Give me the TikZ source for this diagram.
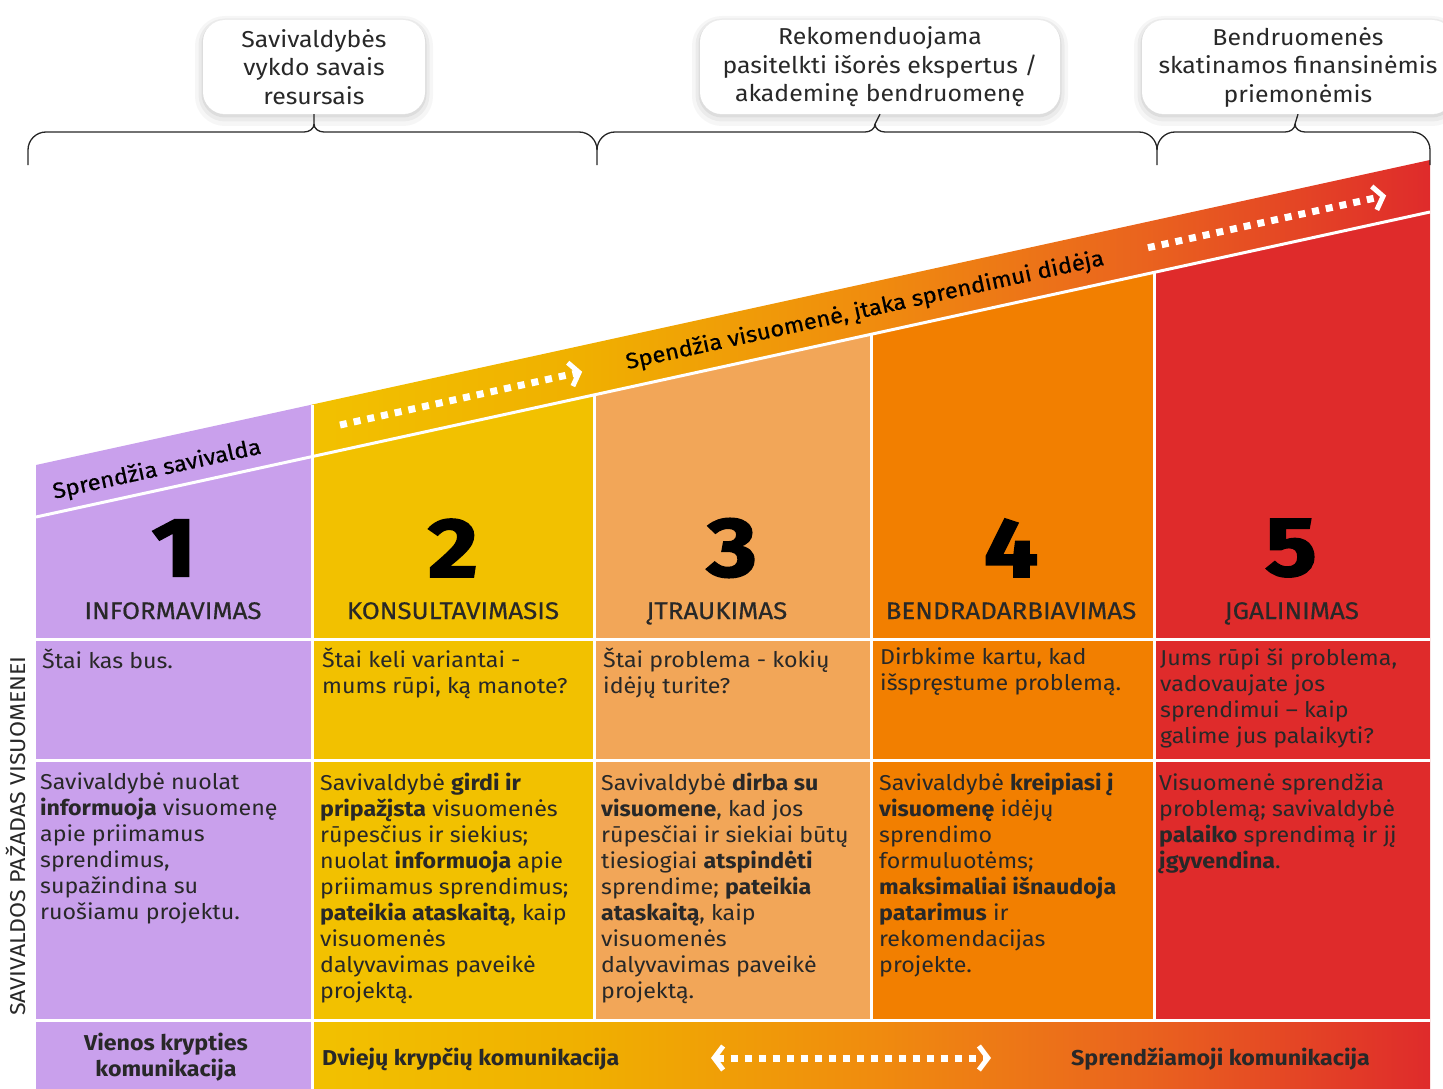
\documentclass[tikz,border=0pt]{standalone}
\usepackage{fontspec}
\setmainfont{Fira Sans}[FakeStretch=1.08]
\newfontfamily\numfont[FakeStretch=1.15, BoldFeatures={FakeBold=2}]{Fira Sans}
\newfontfamily\headfont[FakeStretch=1.08, FakeBold=0.5]{Fira Sans}
\usepackage{tikz}
\usetikzlibrary{arrows.meta}

\definecolor{lavender}{RGB}{201,160,236}
\definecolor{sunyellow}{RGB}{242,193,0}
\definecolor{peach}{RGB}{242,166,88}
\definecolor{deeporange}{RGB}{242,127,0}
\definecolor{firered}{RGB}{223,43,43}
\definecolor{amber}{RGB}{240,176,0}
\definecolor{tangerine}{RGB}{240,140,14}
\definecolor{rust}{RGB}{234,100,30}
\definecolor{inkgray}{RGB}{40,40,40}

%yellow to red
\pgfdeclarehorizontalshading{heatfade}{100bp}{color(0bp)=(sunyellow); color(25bp)=(sunyellow);
	color(37bp)=(amber); color(50bp)=(tangerine); color(62bp)=(rust); color(75bp)=(firered); color(100bp)=(firered)}

\tikzset{
	bubble/.style={fill=white, rounded corners=22pt, minimum height=94pt, align=center, text=inkgray,
		font=\fontsize{23}{28.5}\selectfont,
		preaction={draw=black, draw opacity=0.035, line width=16pt, transform canvas={yshift=-4pt}},
		preaction={draw=black, draw opacity=0.045, line width=9pt, transform canvas={yshift=-3pt}},
		preaction={draw=black, draw opacity=0.06, line width=3pt, transform canvas={yshift=-2pt}}},
	bracket/.style={black!85, line width=1.3pt},
	gap/.style={white, line width=3pt},
	bignum/.style={font=\fontsize{84}{84}\numfont\bfseries, text=black},
	levelname/.style={anchor=base, font=\fontsize{24}{28}\headfont, text=inkgray},
	celltext/.style={anchor=north west, align=left, inner sep=0pt, text=inkgray,
		font=\fontsize{21.5}{26}\selectfont, execute at begin node={\rule{0pt}{20pt}}},
	bandtext/.style={rotate=12.34, font=\fontsize{22}{24}\headfont, text=black},
	commtext/.style={font=\fontsize{21.5}{26}\selectfont\bfseries, text=inkgray},
	flowdash/.style={white, line width=7pt, dash pattern=on 7pt off 7pt},
	chevron/.tip={Straight Barb[length=9pt, width=24pt, line width=5pt, sep=6pt]}
}

\begin{document}
\begin{tikzpicture}[x=1pt,y=-1pt]
	\useasboundingbox (0,0) rectangle (1443,1089);

	%band
	\fill[lavender] (36,465) -- (312,404.6) -- (312,456.6) -- (36,517) -- cycle;
	\shade[shading=heatfade] (312,404.6) -- (1430,160) -- (1430,212) -- (312,456.6) -- cycle;

	%columns
	\fill[lavender] (36,517) -- (312,456.6) -- (312,1020) -- (36,1020) -- cycle;
	\fill[sunyellow] (312,456.6) -- (594,394.9) -- (594,1020) -- (312,1020) -- cycle;
	\fill[peach] (594,394.9) -- (871,334.3) -- (871,1020) -- (594,1020) -- cycle;
	\fill[deeporange] (871,334.3) -- (1154,272.4) -- (1154,1020) -- (871,1020) -- cycle;
	\fill[firered] (1154,272.4) -- (1430,212) -- (1430,1020) -- (1154,1020) -- cycle;
	%
	\fill[lavender] (36,1020) rectangle (312,1089);
	\shade[shading=heatfade] (312,1020) rectangle (1430,1089);

	%white lines
	\draw[gap] (36,517) -- (1430,212);
	\draw[gap] (312,404.6) -- (312,1089);
	\foreach \x/\y in {594/394.9, 871/334.3, 1154/272.4}
		\draw[gap] (\x,\y) -- (\x,1020);
	\foreach \y in {639,760,1020}
		\draw[gap] (36,\y) -- (1430,\y);

	%bubbles
	\node[bubble, minimum width=222pt] (res) at (314,67) {Savivaldybės\\vykdo savais\\resursais};
	\node[bubble, minimum width=360pt] (expert) at (880,67) {Rekomenduojama\\pasitelkti išorės ekspertus /\\akademinę bendruomenę};
	\node[bubble, minimum width=312pt] (fund) at (1298,67) {Bendruomenės\\skatinamos finansinėmis\\priemonėmis};

	%braces
	\coordinate (resL) at (28,165);
	\coordinate (resR) at (597,165);
	\coordinate (expertR) at (1157,165);
	\coordinate (fundR) at (1430,165);
	\draw[bracket] (res.south) -- (314,124) to[out=-90,in=0] (304,132) -- (46,132) to[out=180,in=90] (28,150) -- (resL);
	\draw[bracket] (314,124) to[out=-90,in=180] (324,132) -- (579,132) to[out=0,in=90] (597,150) -- (resR);
	\draw[bracket] (expert.south) -- (875,124) to[out=-90,in=0] (865,132) -- (615,132) to[out=180,in=90] (597,150);
	\draw[bracket] (875,124) to[out=-90,in=180] (885,132) -- (1139,132) to[out=0,in=90] (1157,150) -- (expertR);
	\draw[bracket] (fund.south) -- (1295,124) to[out=-90,in=0] (1285,132) -- (1175,132) to[out=180,in=90] (1157,150);
	\draw[bracket] (1295,124) to[out=-90,in=180] (1305,132) -- (1412,132) to[out=0,in=90] (1430,150) -- (fundR);

	%band labels and arrows
	\node[bandtext] (selfgov) at (157,470) {Sprendžia savivalda};
	\node[bandtext] (public) at (865,311) {Spendžia visuomenė, įtaka sprendimui didėja};
	\coordinate (dashA) at (340,425);
	\coordinate (tipA) at (588,370.5);
	\coordinate (dashB) at (1148,247.7);
	\coordinate (tipB) at (1392,194.3);
	\draw[flowdash, -chevron] (dashA) -- (tipA);
	\draw[flowdash, -chevron] (dashB) -- (tipB);

	%levels
	\node[bignum] (n1) at (174,548) {1};
	\node[bignum] (n2) at (453,548) {2};
	\node[bignum] (n3) at (732,548) {3};
	\node[bignum] (n4) at (1011,548) {4};
	\node[bignum] (n5) at (1291,548) {5};
	\node[levelname] (h1) at (173,619) {INFORMAVIMAS};
	\node[levelname] (h2) at (453,619) {KONSULTAVIMASIS};
	\node[levelname] (h3) at (717,619) {ĮTRAUKIMAS};
	\node[levelname] (h4) at (1011,619) {BENDRADARBIAVIMAS};
	\node[levelname] (h5) at (1292,619) {ĮGALINIMAS};

	%questions
	\node[celltext] (q1) at (42,648) {Štai kas bus.};
	\node[celltext] (q2) at (322,648) {Štai keli variantai -\\mums rūpi, ką manote?};
	\node[celltext] (q3) at (603,648) {Štai problema - kokių\\idėjų turite?};
	\node[celltext] (q4) at (880,648) {Dirbkime kartu, kad\\išspręstume problemą.};
	\node[celltext] (q5) at (1160,648) {Jums rūpi ši problema,\\vadovaujate jos\\sprendimui – kaip\\galime jus palaikyti?};

	%promises
	\node[celltext] (d1) at (40,773) {Savivaldybė nuolat\\\textbf{informuoja} visuomenę\\apie priimamus\\sprendimus,\\supažindina su\\ruošiamu projektu.};
	\node[celltext] (d2) at (320,773) {Savivaldybė \textbf{girdi ir}\\\textbf{pripažįsta} visuomenės\\rūpesčius ir siekius;\\nuolat \textbf{informuoja} apie\\priimamus sprendimus;\\\textbf{pateikia ataskaitą}, kaip\\visuomenės\\dalyvavimas paveikė\\projektą.};
	\node[celltext] (d3) at (601,773) {Savivaldybė \textbf{dirba su}\\\textbf{visuomene}, kad jos\\rūpesčiai ir siekiai būtų\\tiesiogiai \textbf{atspindėti}\\sprendime; \textbf{pateikia}\\\textbf{ataskaitą}, kaip\\visuomenės\\dalyvavimas paveikė\\projektą.};
	\node[celltext] (d4) at (879,773) {Savivaldybė \textbf{kreipiasi į}\\\textbf{visuomenę} idėjų\\sprendimo\\formuluotėms;\\\textbf{maksimaliai išnaudoja}\\\textbf{patarimus} ir\\rekomendacijas\\projekte.};
	\node[celltext] (d5) at (1159,773) {Visuomenė sprendžia\\problemą; savivaldybė\\\textbf{palaiko} sprendimą ir jį\\\textbf{įgyvendina}.};

	%side label
	\node[rotate=90, font=\fontsize{21.5}{24}\selectfont, text=inkgray] (promise) at (16,836) {SAVIVALDOS PAŽADAS VISUOMENEI};

	%communication
	\node[commtext, align=center] (oneway) at (166,1057) {Vienos krypties\\komunikacija};
	\node[commtext, anchor=west, inner sep=0pt] (twoway) at (322,1059) {Dviejų krypčių komunikacija};
	\node[commtext, anchor=west, inner sep=0pt] (decisive) at (1071,1059) {Sprendžiamoji komunikacija};
	\coordinate (dashL) at (705,1058);
	\coordinate (dashR) at (997,1058);
	\draw[flowdash, chevron-chevron] (dashL) -- (dashR);

	%\draw[help lines] (0,0) grid[step=50] (1443,1089);
\end{tikzpicture}
\end{document}
